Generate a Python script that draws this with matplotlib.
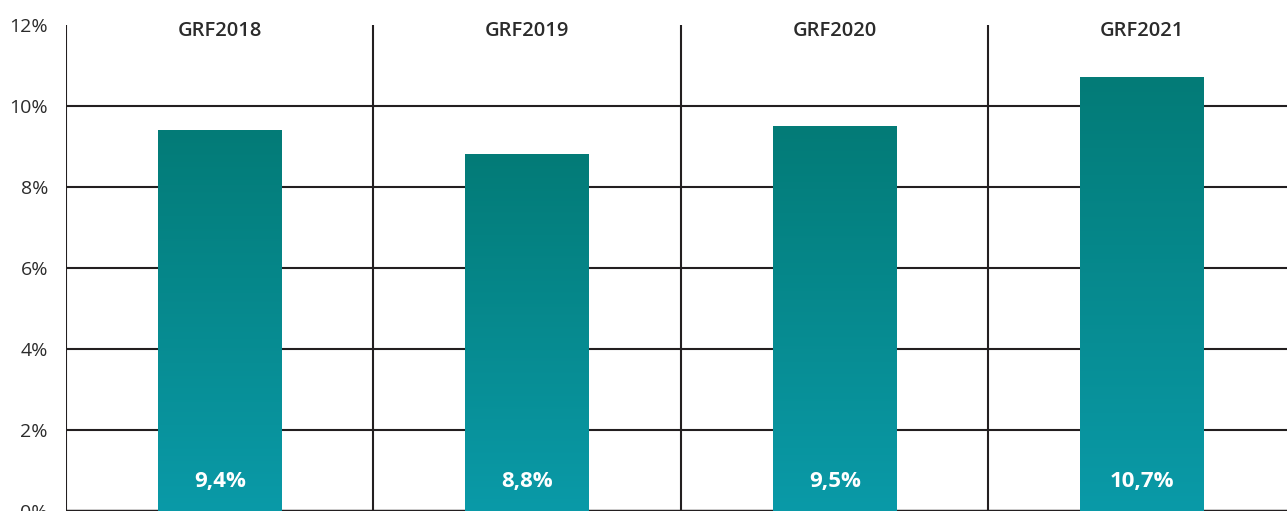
import numpy as np
import matplotlib
matplotlib.use("Agg")
import matplotlib.pyplot as plt
from matplotlib.colors import LinearSegmentedColormap

# 数据
categories = ["GRF2018", "GRF2019", "GRF2020", "GRF2021"]
values = [9.4, 8.8, 9.5, 10.7]
value_labels = ["9,4%", "8,8%", "9,5%", "10,7%"]
y_ticks = [0, 2, 4, 6, 8, 10, 12]

plt.rcParams['font.family'] = ['Open Sans', 'DejaVu Sans']

line_col = "#231f20"
text_col = "#2b2b2b"
grad = LinearSegmentedColormap.from_list("teal", ["#0a9aa8", "#037b77"])

fig = plt.figure(figsize=(12.87, 5.11), dpi=100)
# 坐标轴区域: 左边 x=66px, 12% 在 y=25px, 0% 在图底部
ax = fig.add_axes([66 / 1287, 0.0, 1230 / 1287, 486 / 511])

n = len(categories)
x = np.arange(n)
bar_w = 0.403

ax.set_xlim(-0.5, n - 0.5)
ax.set_ylim(0, 12)

# 网格线
for yv in y_ticks[1:-1]:
    ax.axhline(yv, color=line_col, lw=1.5, zorder=1)
ax.axhline(0, color=line_col, lw=2.5, zorder=1)
# 分隔竖线
for i in range(n):
    ax.axvline(i - 0.5, color=line_col, lw=1.5, zorder=1)

# 渐变柱子
g = np.linspace(0, 1, 256).reshape(-1, 1)
for xi, v, lab in zip(x, values, value_labels):
    ax.imshow(g, extent=[xi - bar_w / 2, xi + bar_w / 2, 0, v], origin="lower",
              aspect="auto", cmap=grad, zorder=3, interpolation="bicubic")
    ax.text(xi, 0.72, lab, ha="center", va="center", color="white",
            fontsize=16, fontweight="bold", zorder=4)

# 顶部标题
for xi, c in zip(x, categories):
    ax.text(xi, 11.85, c, ha="center", va="center", color=text_col,
            fontsize=14.5, fontweight="semibold")

ax.set_xlim(-0.5, n - 0.5)
ax.set_ylim(0, 12)
ax.set_xticks([])
ax.set_yticks(y_ticks)
ax.set_yticklabels([f"{t}%" for t in y_ticks], fontsize=14, color=text_col)
ax.tick_params(axis="y", length=0, pad=13)
for s in ["top", "right", "bottom", "left"]:
    ax.spines[s].set_visible(False)

fig.savefig("out.png", dpi=100)
